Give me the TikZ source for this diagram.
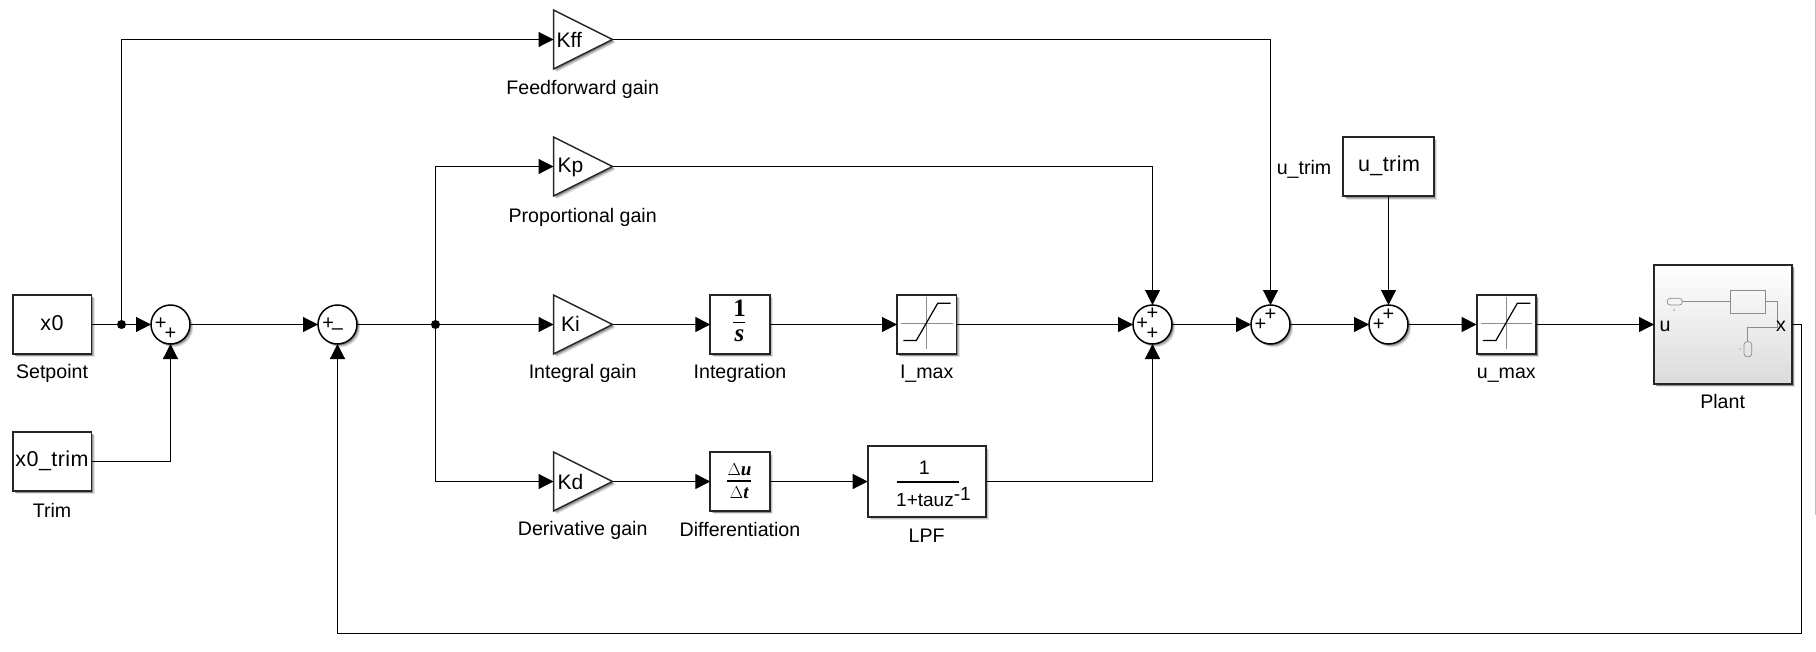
\documentclass[tikz,border=0pt]{standalone}
\usepackage{fontspec}
\setmainfont{Liberation Sans}
\newfontfamily\serifb{Liberation Serif}
\newfontfamily\blockf[LetterSpace=2]{Liberation Sans}
\usetikzlibrary{arrows.meta,shapes.geometric,shadows}
\newcommand{\fsz}[1]{\fontsize{#1}{#1}\selectfont}
\tikzset{
  softshadow/.style={
    drop shadow={shadow xshift=3.2pt,shadow yshift=-3.2pt,opacity=.10,fill=black},
    drop shadow={shadow xshift=2.4pt,shadow yshift=-2.4pt,opacity=.16,fill=black},
    drop shadow={shadow xshift=1.5pt,shadow yshift=-1.5pt,opacity=.24,fill=black}},
  blockbox/.style={draw=black!85,line width=1.8pt,fill=white,inner sep=0pt,outer sep=0pt,rectangle,softshadow},
  sumc/.style={circle,draw=black,line width=1.5pt,fill=white,minimum size=39pt,inner sep=0pt,outer sep=0pt,softshadow},
  gainb/.style={isosceles triangle,isosceles triangle stretches,shape border rotate=0,draw=black!85,line width=1.5pt,fill=white,
     minimum width=59pt,minimum height=59pt,inner sep=0pt,outer sep=0pt,anchor=lower side,softshadow},
  lab/.style={inner sep=0pt,font=\fsz{19.6}},
  blocktxt/.style={inner sep=0pt,font=\blockf\fsz{21.5}},
  gaintxt/.style={inner sep=0pt,anchor=west,font=\fsz{21}},
  sgn/.style={inner sep=0pt,font=\fsz{20}},
  wire/.style={draw=black,line width=1.2pt},
  arr/.style={wire,-{Triangle[length=15pt,width=15pt]}},
  dotn/.style={circle,fill=black,minimum size=9pt,inner sep=0pt,outer sep=0pt},
  iconline/.style={draw=black!45,line width=.9pt},
  satline/.style={draw=black,line width=1.2pt},
  fracbar/.style={draw=black,line width=1.2pt},
}
\begin{document}
\begin{tikzpicture}[x=1pt,y=-1pt]
\useasboundingbox (0,0) rectangle (1816,651);
\fill[black!25] (1815,0) rectangle (1816,515);
% source blocks
\node[blockbox,minimum width=78.5pt,minimum height=59pt] (x0) at (52.3,324.5) {};
\node[blocktxt] (x0t) at (52,323) {x0};
\node[lab] (setpoint) at (52,373.5) {Setpoint};
\node[blockbox,minimum width=78.5pt,minimum height=59pt] (trim) at (52.3,461.5) {};
\node[blocktxt] (trimt) at (52,461) {x0\_trim};
\node[lab] (trimlab) at (52,510.5) {Trim};
% sums
\node[sumc] (s1) at (170.5,324.5) {};
\node[sumc] (s2) at (337.5,324.5) {};
\node[sumc] (s3) at (1152.5,324.5) {};
\node[sumc] (s4) at (1270.5,324.5) {};
\node[sumc] (s5) at (1388.5,324.5) {};
\node[sgn] (s1a) at (160.7,324) {+};
\node[sgn] (s1b) at (170.5,333.5) {+};
\node[sgn] (s2a) at (328.3,324) {+};
\node[sgn] (s2b) at (337.5,331.5) {–};
\node[sgn] (s3a) at (1142.3,324) {+};
\node[sgn] (s3b) at (1152.5,314) {+};
\node[sgn] (s3c) at (1152.5,333.5) {+};
\node[sgn] (s4a) at (1260.5,324.5) {+};
\node[sgn] (s4b) at (1270.5,314.5) {+};
\node[sgn] (s5a) at (1378.7,324.5) {+};
\node[sgn] (s5b) at (1388.5,314.5) {+};
% gains
\node[gainb] (kff) at (553.5,39.5) {};
\node[gaintxt] (kfft) at (556.5,39.5) {Kff};
\node[lab] (kffl) at (582.7,89.5) {Feedforward gain};
\node[gainb] (kp) at (553.5,166.5) {};
\node[gaintxt] (kpt) at (557.5,167) {Kp};
\node[lab] (kpl) at (582.7,217) {Proportional gain};
\node[gainb] (ki) at (553.5,324.5) {};
\node[gaintxt] (kit) at (561,324) {Ki};
\node[lab] (kil) at (582.7,373) {Integral gain};
\node[gainb] (kd) at (553.5,481.5) {};
\node[gaintxt] (kdt) at (557.5,481.5) {Kd};
\node[lab] (kdl) at (582.7,530.5) {Derivative gain};
% integrator
\node[blockbox,minimum width=59.4pt,minimum height=59pt] (integ) at (740,324.5) {};
\node[inner sep=0pt,font=\serifb\bfseries\fsz{25}] (integn) at (739.5,308) {1};
\node[inner sep=0pt,font=\serifb\bfseries\itshape\fsz{25}] (integd) at (739.5,336) {s};
\draw[fracbar] (733.3,322.7) -- (745,322.7);
\node[lab] (integl) at (740,373.5) {Integration};
% differentiator
\node[blockbox,minimum width=59.4pt,minimum height=59pt] (diff) at (740,481.5) {};
\node[inner sep=0pt,font=\serifb\bfseries\fsz{19}] (diffn) at (739.5,469.5) {$\Delta$\kern0pt\textit{u}};
\node[inner sep=0pt,font=\serifb\bfseries\fsz{19}] (diffd) at (739.5,493) {$\Delta$\kern0pt\textit{t}};
\draw[fracbar] (727,481) -- (750.7,481);
\node[lab] (diffl) at (740,529.5) {Differentiation};
% saturations
\node[blockbox,minimum width=59.4pt,minimum height=59pt] (imax) at (926.7,324.5) {};
\draw[iconline] (926.7,296.7) -- (926.7,349) (901,323.5) -- (952.7,323.5);
\draw[satline] (903.3,340.5) -- (916.3,340.5) -- (937.7,303.3) -- (950.7,303.3);
\node[lab] (imaxl) at (926.7,374) {I\_max};
\node[blockbox,minimum width=59.4pt,minimum height=59pt] (umax) at (1506.3,324.5) {};
\draw[iconline] (1506.3,296.7) -- (1506.3,349) (1480.6,323.5) -- (1532.3,323.5);
\draw[satline] (1482.9,340.5) -- (1495.9,340.5) -- (1517.3,303.3) -- (1530.3,303.3);
\node[lab] (umaxl) at (1506.3,375.5) {u\_max};
% LPF
\node[blockbox,minimum width=118pt,minimum height=70.6pt] (lpf) at (926.7,481.5) {};
\node[lab] (lpfn) at (924.3,468) {1};
\draw[fracbar] (896.7,482) -- (959.3,482);
\node[inner sep=0pt,anchor=base west,font=\fsz{19}] (lpfd) at (896,506.7) {1+tauz\raisebox{6pt}{-1}};
\node[lab] (lpfl) at (926.7,536) {LPF};
% u_trim
\node[blockbox,minimum width=90.4pt,minimum height=59.6pt] (utrim) at (1388.5,166.5) {};
\node[blocktxt] (utrimt) at (1389,166) {u\_trim};
\node[lab] (utriml) at (1304,169) {u\_trim};
% plant
\node[blockbox,minimum width=138pt,minimum height=119pt,top color=white,middle color=white,bottom color=black!14] (plant) at (1723,324.5) {};
\draw[iconline,line width=.7pt,rounded corners=3pt] (1667.3,298.3) rectangle (1682.3,305);
\draw[iconline,line width=.7pt] (1682.3,301.3) -- (1730,301.3);
\draw[iconline,line width=.7pt] (1730,290) rectangle (1765.7,313.3);
\draw[iconline,line width=.7pt] (1765.7,301.3) -- (1777.7,301.3) -- (1777.7,327.3) -- (1747.3,327.3) -- (1747.3,341.7);
\draw[iconline,line width=.7pt,rounded corners=3pt] (1744,341.7) rectangle (1751.7,356.7);
\node[inner sep=0pt,font=\fsz{4},text=black!50] (pu) at (1674.3,310.7) {u};
\node[inner sep=0pt,font=\fsz{4},text=black!50] (px) at (1740,349.3) {x};
\node[lab] (pin) at (1665,326) {u};
\node[lab] (pout) at (1781,326) {x};
\node[lab] (plantl) at (1722.6,401) {Plant};
% junctions
\node[dotn] (j1) at (121.5,324.5) {};
\node[dotn] (j2) at (435.5,324.5) {};
% helper corners
\coordinate (c1) at (j1 |- kff.lower side);
\coordinate (c2) at (j2 |- kp.lower side);
\coordinate (c3) at (j2 |- kd.lower side);
\coordinate (c4) at (s4 |- kff.apex);
\coordinate (c5) at (s3 |- kp.apex);
\coordinate (c6) at (s3 |- lpf.east);
\coordinate (c7) at (s1 |- trim.east);
\coordinate (c8) at (1801.5,324.5);
\coordinate (c9) at (1801.5,633.5);
\coordinate (c10) at (s2 |- c9);
% wires
\draw[wire] (x0.east) -- (j1);
\draw[arr] (j1) -- (s1.west);
\draw[arr] (j1) -- (c1) -- (kff.lower side);
\draw[arr] (trim.east) -- (c7) -- (s1.south);
\draw[arr] (s1.east) -- (s2.west);
\draw[wire] (s2.east) -- (j2);
\draw[arr] (j2) -- (ki.lower side);
\draw[arr] (j2) -- (c2) -- (kp.lower side);
\draw[arr] (j2) -- (c3) -- (kd.lower side);
\draw[arr] (ki.apex) -- (integ.west);
\draw[arr] (integ.east) -- (imax.west);
\draw[arr] (imax.east) -- (s3.west);
\draw[arr] (kd.apex) -- (diff.west);
\draw[arr] (diff.east) -- (lpf.west);
\draw[arr] (lpf.east) -- (c6) -- (s3.south);
\draw[arr] (kp.apex) -- (c5) -- (s3.north);
\draw[arr] (kff.apex) -- (c4) -- (s4.north);
\draw[arr] (s3.east) -- (s4.west);
\draw[arr] (s4.east) -- (s5.west);
\draw[arr] (utrim.south) -- (s5.north);
\draw[arr] (s5.east) -- (umax.west);
\draw[arr] (umax.east) -- (plant.west);
\draw[wire] (plant.east) -- (c8) -- (c9) -- (c10);
\draw[arr] (c10) -- (s2.south);
\end{tikzpicture}
\end{document}
